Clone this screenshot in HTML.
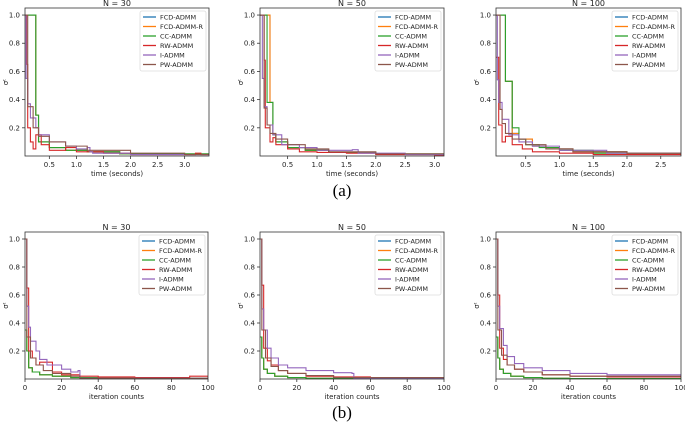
<!DOCTYPE html>
<html><head><meta charset="utf-8"><style>
body{margin:0;background:#fff;}
svg{display:block;font-family:"DejaVu Sans","Liberation Sans",sans-serif;}
</style></head><body>
<svg id="fig" width="685" height="426" viewBox="0 0 685 426">
<text x="342" y="196" font-family="Liberation Serif,serif" font-size="17" text-anchor="middle">(a)</text>
<text x="342" y="418" font-family="Liberation Serif,serif" font-size="17" text-anchor="middle">(b)</text>
</svg>
<script>
const seriesNames=["FCD-ADMM","FCD-ADMM-R","CC-ADMM","RW-ADMM","I-ADMM","PW-ADMM"];
const seriesColors=["#1f77b4","#ff7f0e","#2ca02c","#d62728","#9467bd","#8c564b"];
const yTicks=[0.2,0.4,0.6,0.8,1.0];
const panelTitles=["N = 30","N = 50","N = 100","N = 30","N = 50","N = 100"];
const timeTicksA=[0.5,1.0,1.5,2.0,2.5,3.0];
const timeTicksC=[0.5,1.0,1.5,2.0,2.5];
const iterTicks=[0,20,40,60,80,100];
const p1x=[[0.05,0.15,0.25,0.3,0.5,0.8,1.2,1.8,3.45],[0.05,0.15,0.25,0.3,0.5,0.8,1.2,1.8,3.45],[0.05,0.15,0.25,0.3,0.5,0.8,1.2,1.8,3.45],[0.05,0.08,0.1,0.15,0.2,0.25,0.35,0.5,0.8,1.0,1.5,2.0,3.2,3.3,3.45],[0.05,0.07,0.1,0.15,0.25,0.3,0.5,0.8,1.0,1.2,1.25,1.3,2.0,3.45],[0.05,0.1,0.2,0.3,0.5,0.8,1.2,2.0,3.0,3.45]];
const p1y=[[1.0,1.0,0.29,0.1,0.06,0.04,0.03,0.015,0.01],[1.0,1.0,0.29,0.1,0.06,0.04,0.03,0.015,0.01],[1.0,1.0,0.29,0.1,0.06,0.04,0.03,0.015,0.01],[1.0,0.65,0.2,0.1,0.05,0.15,0.08,0.04,0.06,0.03,0.02,0.01,0.02,0.01,0.01],[1.0,0.55,0.37,0.27,0.2,0.15,0.1,0.07,0.05,0.06,0.03,0.02,0.01,0.01],[1.0,0.35,0.2,0.14,0.1,0.07,0.04,0.02,0.01,0.01]];
const p2x=[[0.03,0.2,0.25,0.3,0.5,0.8,1.2,2.0,3.16],[0.03,0.2,0.25,0.3,0.5,0.8,1.2,2.0,3.16],[0.03,0.15,0.25,0.3,0.5,0.8,1.2,2.0,3.16],[0.03,0.1,0.12,0.2,0.25,0.3,0.5,0.7,1.0,1.5,2.0,3.0,3.16],[0.03,0.07,0.1,0.15,0.25,0.4,0.7,1.0,1.6,1.7,2.5,3.16],[0.03,0.1,0.15,0.2,0.3,0.5,0.8,1.2,2.0,3.16]];
const p2y=[[1.0,0.38,0.15,0.1,0.06,0.04,0.025,0.015,0.01],[1.0,0.38,0.15,0.1,0.06,0.04,0.025,0.015,0.01],[1.0,0.38,0.15,0.1,0.06,0.04,0.025,0.015,0.01],[1.0,0.68,0.2,0.1,0.13,0.08,0.05,0.03,0.025,0.02,0.01,0.005,0.005],[1.0,0.55,0.35,0.22,0.15,0.08,0.06,0.04,0.045,0.02,0.01,0.01],[1.0,0.34,0.22,0.16,0.12,0.08,0.05,0.03,0.015,0.01]];
const p3x=[[0.06,0.2,0.3,0.4,0.6,0.8,1.2,2.0,2.8],[0.06,0.2,0.3,0.4,0.6,0.8,1.2,2.0,2.8],[0.06,0.2,0.3,0.4,0.5,0.7,1.0,1.5,2.8],[0.06,0.1,0.15,0.2,0.3,0.45,0.6,1.0,1.5,2.8],[0.06,0.08,0.1,0.15,0.25,0.4,0.6,1.0,1.7,2.8],[0.06,0.12,0.15,0.2,0.3,0.5,0.8,1.2,2.0,2.8]];
const p3y=[[1.0,0.53,0.16,0.12,0.07,0.05,0.03,0.015,0.01],[1.0,0.53,0.16,0.12,0.07,0.05,0.03,0.015,0.01],[1.0,0.53,0.2,0.12,0.08,0.06,0.04,0.02,0.01],[0.7,0.22,0.1,0.14,0.08,0.05,0.03,0.02,0.01,0.01],[1.0,0.54,0.38,0.26,0.15,0.1,0.07,0.04,0.02,0.015],[1.0,0.33,0.23,0.16,0.12,0.08,0.05,0.03,0.02,0.01]];
const p4x=[[0,1,2,4,8,15,25,40,100],[0,1,2,4,8,15,25,40,100],[0,1,2,4,8,15,25,40,100],[0,1,2,4,6,8,15,20,30,40,60,90,100],[0,1,2,3,6,8,12,20,25,29,30,100],[0,1,3,6,10,15,25,30,100]];
const p4y=[[0.35,0.2,0.08,0.05,0.03,0.02,0.01,0.005,0.005],[0.35,0.2,0.08,0.05,0.03,0.02,0.01,0.005,0.005],[0.35,0.2,0.08,0.05,0.03,0.02,0.01,0.005,0.005],[1.0,0.65,0.2,0.15,0.1,0.12,0.05,0.03,0.02,0.015,0.01,0.02,0.01],[1.0,0.52,0.37,0.27,0.2,0.14,0.1,0.07,0.05,0.06,0.005,0.005],[1.0,0.3,0.15,0.1,0.06,0.04,0.02,0.005,0.005]];
const p5x=[[0,1,2,4,8,15,25,40,100],[0,1,2,4,8,15,25,40,100],[0,1,2,4,8,15,25,40,100],[0,1,2,4,6,10,15,25,40,60,100],[0,1,2,4,6,10,15,25,40,50,51,100],[0,1,3,6,10,15,25,40,100]];
const p5y=[[0.3,0.15,0.07,0.04,0.02,0.01,0.005,0.003,0.003],[0.3,0.15,0.07,0.04,0.02,0.01,0.005,0.003,0.003],[0.3,0.15,0.07,0.04,0.02,0.01,0.005,0.003,0.003],[1.0,0.67,0.22,0.13,0.1,0.06,0.04,0.02,0.015,0.01,0.01],[1.0,0.5,0.35,0.22,0.15,0.1,0.08,0.06,0.045,0.04,0.005,0.005],[1.0,0.35,0.15,0.09,0.06,0.04,0.025,0.01,0.005]];
const p6x=[[0,1,2,4,8,15,25,40,100],[0,1,2,4,8,15,25,40,100],[0,1,2,4,8,15,25,40,100],[0,1,2,4,6,10,15,25,40,60,100],[0,1,2,4,6,10,15,25,40,60,100],[0,1,3,6,10,15,25,40,100]];
const p6y=[[0.3,0.15,0.07,0.04,0.02,0.01,0.005,0.003,0.003],[0.3,0.15,0.07,0.04,0.02,0.01,0.005,0.003,0.003],[0.3,0.15,0.07,0.04,0.02,0.01,0.005,0.003,0.003],[1.0,0.6,0.22,0.14,0.1,0.07,0.05,0.03,0.02,0.015,0.01],[1.0,0.52,0.36,0.24,0.16,0.11,0.08,0.06,0.04,0.03,0.02],[1.0,0.35,0.17,0.1,0.07,0.05,0.03,0.02,0.01]];
const panelX=[p1x,p2x,p3x,p4x,p5x,p6x];
const panelY=[p1y,p2y,p3y,p4y,p5y,p6y];
const xDomains=[[0.05,3.45],[0.03,3.16],[0.06,2.8],[0,100],[0,100],[0,100]];
const xTickSets=[timeTicksA,timeTicksA,timeTicksC,iterTicks,iterTicks,iterTicks];
const xTickDecimals=[1,1,1,0,0,0];
const xLabels=["time (seconds)","time (seconds)","time (seconds)","iteration counts","iteration counts","iteration counts"];

const NS="http://www.w3.org/2000/svg";
const svg=document.getElementById('fig');
function mk(tag,attrs,parent){const e=document.createElementNS(NS,tag);for(const k in attrs)e.setAttribute(k,attrs[k]);(parent||svg).appendChild(e);return e;}
const boxes=[[25,209,8,156],[260,444,8,156],[496,681,8,156],[25,208,232,379],[260,444,232,379],[496,681,232,379]];
for(let p=0;p<6;p++){
  const [L,R,T,B]=boxes[p];const [x0,x1]=xDomains[p];
  const sx=v=>L+(v-x0)/(x1-x0)*(R-L);
  const sy=v=>B-v/1.05*(B-T);
  const g=mk('g',{});
  
  
  const cid='c'+p;
  const cp=mk('clipPath',{id:cid},g);mk('rect',{x:L,y:T,width:R-L,height:B-T},cp);
  const lines=mk('g',{'clip-path':'url(#'+cid+')'},g);
  for(let s=0;s<6;s++){
    const xs=panelX[p][s],ys=panelY[p][s];let d='';
    for(let i=0;i<xs.length;i++){
      const X=sx(xs[i]),Y=sy(ys[i]);
      if(i===0)d+='M'+X+' '+Y;else d+=' H'+X+' V'+Y;
    }
    const path=mk('path',{d:d,fill:'none',stroke:seriesColors[s],'stroke-width':1.1},lines);
    
    
  }
  mk('rect',{x:L,y:T,width:R-L,height:B-T,fill:'none',stroke:'#333','stroke-width':0.8},g);
  for(const t of yTicks){const Y=sy(t);mk('line',{x1:L-3,x2:L,y1:Y,y2:Y,stroke:'#333','stroke-width':0.8},g);
    const tx=mk('text',{x:L-5,y:Y+2.5,'font-size':7,'text-anchor':'end',fill:'#222'},g);tx.textContent=t.toFixed(1);
    }
  for(const t of xTickSets[p]){const X=sx(t);mk('line',{x1:X,x2:X,y1:B,y2:B+3,stroke:'#333','stroke-width':0.8},g);
    const tx=mk('text',{x:X,y:B+11,'font-size':7,'text-anchor':'middle',fill:'#222'},g);tx.textContent=t.toFixed(xTickDecimals[p]);
    }
  const xl=mk('text',{x:(L+R)/2,y:B+20,'font-size':7,'text-anchor':'middle',fill:'#222'},g);xl.textContent=xLabels[p];
  
  const yl=mk('text',{x:L-17,y:(T+B)/2,'font-size':7,'text-anchor':'middle',fill:'#222',transform:'rotate(-90 '+(L-17)+' '+((T+B)/2)+')'},g);yl.textContent='σᵗ';
  
  const ti=mk('text',{x:(L+R)/2,y:T-2,'font-size':8,'text-anchor':'middle',fill:'#222'},g);ti.textContent=panelTitles[p];
  
  const lw=66,lx=R-lw-3,ly=T+3;
  const lg=mk('g',{},g);
  
  mk('rect',{x:lx,y:ly,width:lw,height:60,fill:'#fff',stroke:'#ddd','stroke-width':0.8,rx:2},lg);
  for(let s=0;s<6;s++){const Y=ly+6+s*9.5;
    mk('line',{x1:lx+3,x2:lx+16,y1:Y,y2:Y,stroke:seriesColors[s],'stroke-width':1.3},lg);
    const tx=mk('text',{x:lx+20,y:Y+2.5,'font-size':6.5,fill:'#222'},lg);tx.textContent=seriesNames[s];
    }
}
</script>
</body></html>
